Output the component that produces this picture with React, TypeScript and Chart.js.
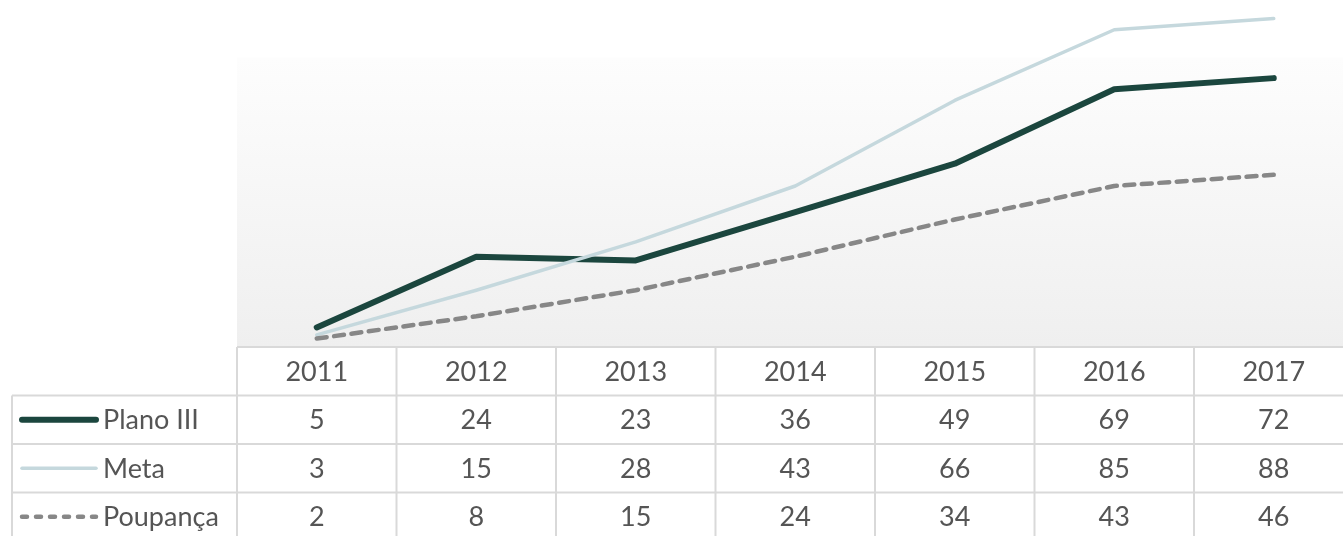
import React, { useEffect, useRef } from "react";
import { Chart, registerables } from "chart.js";

Chart.register(...registerables);

const years = ["2011", "2012", "2013", "2014", "2015", "2016", "2017"];
const planoIII = [5, 24, 23, 36, 49, 69, 72];
const meta = [3, 15, 28, 43, 66, 85, 88];
const poupanca = [2, 8, 15, 24, 34, 43, 46];
const seriesNames = ["Plano III", "Meta", "Poupança"];

const COLORS = ["#1b463e", "#c5d8dd", "#878787"];
const WIDTHS = [6, 3.5, 4.5];
const DASHES: number[][] = [[], [], [10, 7.5]];
const KEY_DASHES: number[][] = [[], [], [5, 9]];

const Y_MAX = 93;
const BG_TOP_VALUE = 77.5;

const CANVAS_W = 1360;
const CANVAS_H = 545;
const FONT = "27px Lato";
const TEXT_COLOR = "#555555";
const GRID = "#d9d9d9";

const tablePlugin = {
  id: "dataTable",
  beforeDatasetsDraw(chart: any) {
    const { ctx, chartArea, scales } = chart;
    const top = scales.y.getPixelForValue(BG_TOP_VALUE);
    const g = ctx.createLinearGradient(0, top, 0, chartArea.bottom);
    g.addColorStop(0, "#fdfdfd");
    g.addColorStop(1, "#efefef");
    ctx.save();
    ctx.fillStyle = g;
    ctx.fillRect(chartArea.left, top, chartArea.right - chartArea.left, chartArea.bottom - top);
    ctx.restore();
  },
  afterDraw(chart: any) {
    const { ctx, chartArea, scales } = chart;
    const xs = scales.x;
    const n = years.length;
    const colW = (chartArea.right - chartArea.left) / n;
    const rowH = 48.5;
    const top = chartArea.bottom + 1;
    const legendLeft = 12;
    const rowsCount = seriesNames.length;
    const bottom = top + rowH * (rowsCount + 1);

    ctx.save();
    ctx.strokeStyle = GRID;
    ctx.lineWidth = 2;
    ctx.beginPath();
    ctx.moveTo(chartArea.left, top);
    ctx.lineTo(chartArea.right + 10, top);
    for (let r = 1; r <= rowsCount + 1; r++) {
      const y = top + r * rowH;
      ctx.moveTo(legendLeft, y);
      ctx.lineTo(chartArea.right + 10, y);
    }
    ctx.moveTo(legendLeft, top + rowH);
    ctx.lineTo(legendLeft, bottom);
    for (let c = 0; c <= n; c++) {
      const x = chartArea.left + c * colW;
      ctx.moveTo(x, top);
      ctx.lineTo(x, bottom);
    }
    ctx.stroke();

    ctx.font = FONT;
    ctx.fillStyle = TEXT_COLOR;
    ctx.textAlign = "center";
    ctx.textBaseline = "middle";
    years.forEach((yr, i) => {
      ctx.fillText(yr, xs.getPixelForValue(i), top + rowH / 2 + 1);
    });
    const all = [planoIII, meta, poupanca];
    all.forEach((arr, r) => {
      const cy = top + rowH * (r + 1) + rowH / 2 + 1;
      arr.forEach((v, i) => {
        ctx.fillText(String(v), xs.getPixelForValue(i), cy);
      });
    });
    ctx.textAlign = "left";
    seriesNames.forEach((name, r) => {
      const cy = top + rowH * (r + 1) + rowH / 2;
      ctx.save();
      ctx.strokeStyle = COLORS[r];
      ctx.lineWidth = WIDTHS[r];
      ctx.lineCap = "round";
      ctx.setLineDash(KEY_DASHES[r]);
      ctx.beginPath();
      ctx.moveTo(22, cy);
      ctx.lineTo(96, cy);
      ctx.stroke();
      ctx.restore();
      ctx.fillText(name, 103, cy + 1);
    });
    ctx.restore();
  },
};

export default function App() {
  const ref = useRef<HTMLCanvasElement | null>(null);
  useEffect(() => {
    if (!ref.current) return;
    const data = [planoIII, meta, poupanca];
    const chart = new Chart(ref.current, {
      type: "line",
      data: {
        labels: years,
        datasets: data.map((d, i) => ({
          label: seriesNames[i],
          data: d,
          borderColor: COLORS[i],
          backgroundColor: COLORS[i],
          borderWidth: WIDTHS[i],
          borderDash: DASHES[i],
          borderCapStyle: "round" as const,
          borderJoinStyle: "round" as const,
          pointRadius: 0,
          pointHoverRadius: 0,
          tension: 0,
          clip: false as any,
          order: 2 - i,
        })),
      },
      options: {
        responsive: false,
        animation: false,
        layout: {
          padding: { left: 237, right: CANVAS_W - 1353.5, top: 0, bottom: CANVAS_H - 346 },
        },
        scales: {
          x: { type: "category", offset: true, display: false },
          y: { min: 0, max: Y_MAX, display: false },
        },
        plugins: { legend: { display: false }, tooltip: { enabled: false } },
      },
      plugins: [tablePlugin],
    });
    return () => chart.destroy();
  }, []);
  return (
    <div
      style={{
        position: "fixed",
        left: 0,
        top: 0,
        width: 1343,
        height: 536,
        overflow: "hidden",
        background: "#ffffff",
      }}
    >
      <canvas
        ref={ref}
        width={CANVAS_W}
        height={CANVAS_H}
        style={{ width: CANVAS_W, height: CANVAS_H, display: "block" }}
      />
    </div>
  );
}
